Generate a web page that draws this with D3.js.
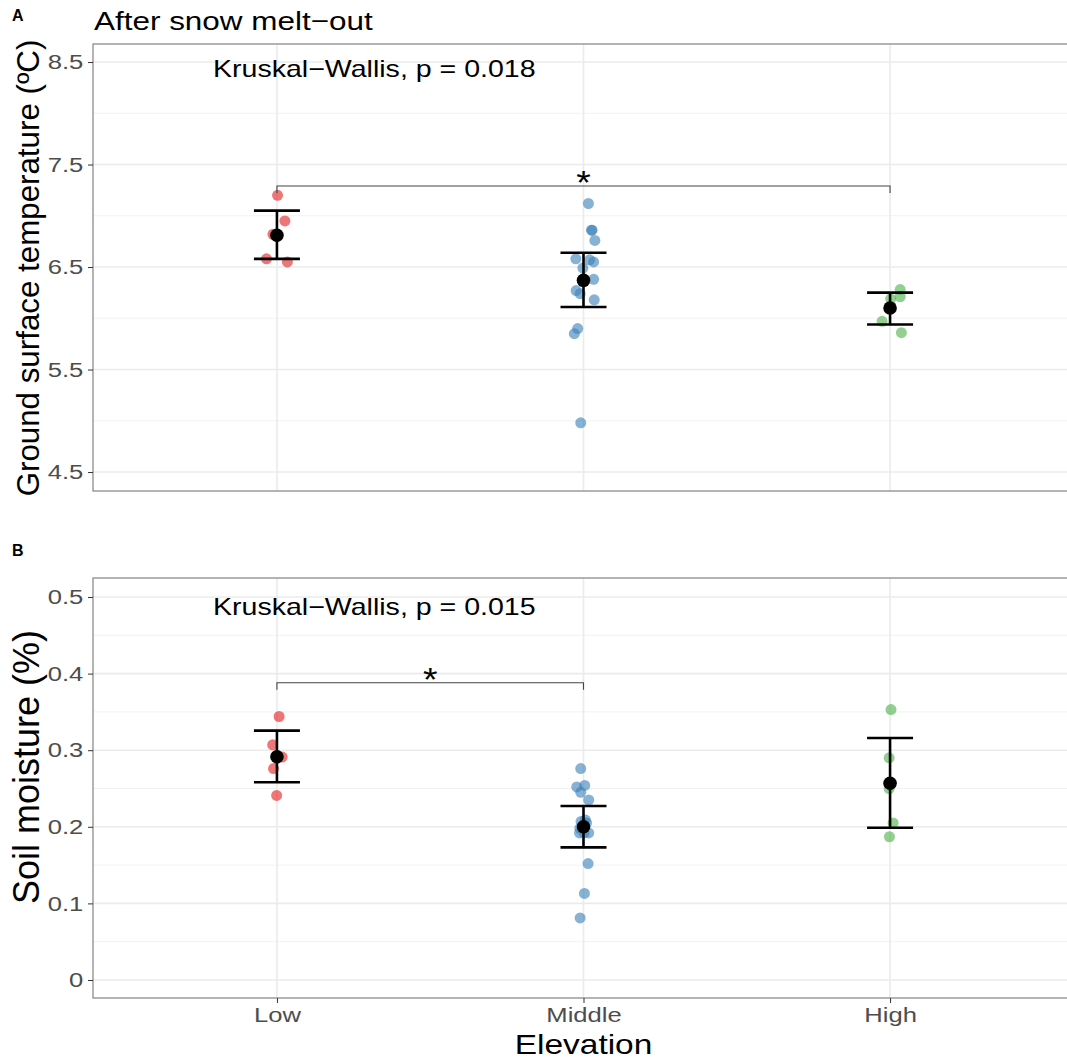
<!DOCTYPE html>
<html>
<head>
<meta charset="utf-8">
<script src="https://cdn.jsdelivr.net/npm/d3@7"></script>
<style>
  body { margin: 0; background: #fff; }
  svg { display: block; font-family: "Liberation Sans", Arial, Helvetica, sans-serif; }
</style>
</head>
<body>
<svg width="1067" height="1060"></svg>
<script>
// categories and palette
const groups = ["Low", "Middle", "High"];
const groupColors = ["#E41A1C", "#377EB8", "#4DAF4A"];

// panel A: ground surface temperature (group, value, jitter)
const tempGroup  = ["Low","Low","Low","Low","Low",
  "Middle","Middle","Middle","Middle","Middle","Middle","Middle","Middle","Middle","Middle","Middle","Middle","Middle","Middle","Middle",
  "High","High","High","High","High"];
const tempValue  = [7.20, 6.95, 6.58, 6.55, 6.82,
  7.12, 6.86, 6.86, 6.76, 6.58, 6.57, 6.55, 6.49, 6.38, 6.27, 6.24, 6.18, 5.90, 5.85, 4.98,
  6.28, 6.21, 6.19, 5.97, 5.86];
const tempJitter = [0.002, 0.026, -0.034, 0.034, -0.013,
  0.016, 0.028, 0.026, 0.037, -0.025, 0.020, 0.033, -0.002, 0.033, -0.024, -0.011, 0.035, -0.019, -0.030, -0.009,
  0.033, 0.033, 0.002, -0.026, 0.037];
const tempMean  = [6.81, 6.37, 6.10];
const tempLower = [6.58, 6.11, 5.94];
const tempUpper = [7.05, 6.64, 6.25];
const tempTicks = [4.5, 5.5, 6.5, 7.5, 8.5];

// panel B: soil moisture
const moistGroup  = ["Low","Low","Low","Low","Low",
  "Middle","Middle","Middle","Middle","Middle","Middle","Middle","Middle","Middle","Middle","Middle","Middle","Middle","Middle","Middle",
  "High","High","High","High","High"];
const moistValue  = [0.344, 0.307, 0.291, 0.276, 0.241,
  0.276, 0.252, 0.254, 0.245, 0.235, 0.207, 0.209, 0.205, 0.198, 0.192, 0.192, 0.192, 0.152, 0.113, 0.081,
  0.353, 0.290, 0.250, 0.205, 0.187];
const moistJitter = [0.007, -0.014, 0.017, -0.011, -0.001,
  -0.009, -0.022, 0.004, -0.009, 0.017, -0.008, 0.006, 0.010, -0.012, -0.013, 0.017, 0.002, 0.015, 0.003, -0.011,
  0.003, -0.003, -0.003, 0.010, -0.002];
const moistMean  = [0.2915, 0.2001, 0.2568];
const moistLower = [0.2581, 0.1732, 0.1988];
const moistUpper = [0.3255, 0.2272, 0.3159];
const moistTicks = [0, 0.1, 0.2, 0.3, 0.4, 0.5];

const svg = d3.select("svg");
const W = +svg.attr("width");
const SX = 1.22; // the picture's text is a little wider than it is tall

// discrete x, ggplot style: categories at 1..3, limits 0.4..3.6
const x = d3.scaleLinear().domain([0.4, 3.6]).range([93, 1074]);
const xPos = g => x(groups.indexOf(g) + 1);
const colorOf = d3.scaleOrdinal().domain(groups).range(groupColors);

// horizontal text, stretched a bit
function wideText(parent, px, py, str, size, sx, anchor) {
  return parent.append("text")
    .attr("transform", `translate(${px},${py}) scale(${sx},1)`)
    .attr("text-anchor", anchor || "start")
    .style("font-size", size + "px").attr("fill", "#000")
    .text(str);
}

function panel(cfg) {
  const y = d3.scaleLinear().domain(cfg.domain).range([cfg.bottom, cfg.top]);
  const g = svg.append("g");

  // minor + major grid
  const minor = d3.range(cfg.ticks.length - 1).map(i => (cfg.ticks[i] + cfg.ticks[i + 1]) / 2);
  g.selectAll(".minor").data(minor).enter().append("line")
    .attr("x1", x.range()[0]).attr("x2", W)
    .attr("y1", d => y(d)).attr("y2", d => y(d))
    .attr("stroke", "#F2F2F2").attr("stroke-width", 1);
  g.selectAll(".major").data(cfg.ticks).enter().append("line")
    .attr("x1", x.range()[0]).attr("x2", W)
    .attr("y1", d => y(d)).attr("y2", d => y(d))
    .attr("stroke", "#EBEBEB").attr("stroke-width", 1.6);
  g.selectAll(".vgrid").data(groups).enter().append("line")
    .attr("x1", d => xPos(d)).attr("x2", d => xPos(d))
    .attr("y1", cfg.top).attr("y2", cfg.bottom)
    .attr("stroke", "#EBEBEB").attr("stroke-width", 1.6);

  // border
  g.append("rect")
    .attr("x", x.range()[0]).attr("y", cfg.top)
    .attr("width", x.range()[1] - x.range()[0]).attr("height", cfg.bottom - cfg.top)
    .attr("fill", "none").attr("stroke", "#8C8C8C").attr("stroke-width", 1.3);

  // y axis
  const yAxis = g.append("g").attr("transform", `translate(${x.range()[0]},0)`)
    .call(d3.axisLeft(y).tickValues(cfg.ticks).tickSize(5).tickPadding(3).tickFormat(cfg.fmt));
  yAxis.select(".domain").remove();
  yAxis.selectAll("line").attr("stroke", "#333");
  yAxis.selectAll("text").attr("fill", "#4D4D4D").style("font-size", "21px")
    .attr("transform", `scale(${SX},1)`)
    .style("font-family", "'Liberation Sans', Arial, sans-serif");

  // y title
  g.append("text")
    .attr("transform", `translate(${cfg.ylabX},${cfg.ylabY}) rotate(-90)`)
    .attr("text-anchor", "middle").style("font-size", cfg.ylabSize + "px").attr("fill", "#000")
    .text(cfg.ylab);

  // panel tag
  g.append("text").attr("x", 12).attr("y", cfg.tagY)
    .style("font-size", "16px").style("font-weight", "bold").text(cfg.tag);

  // points
  const pts = cfg.group.map((gr, i) => ({ g: gr, v: cfg.value[i], j: cfg.jitter[i] }));
  g.selectAll(".pt").data(pts).enter().append("circle")
    .attr("cx", d => x(groups.indexOf(d.g) + 1 + d.j))
    .attr("cy", d => y(d.v))
    .attr("r", 5.5)
    .attr("fill", d => colorOf(d.g)).attr("fill-opacity", 0.6);

  // error bars
  const eb = groups.map((gr, i) => ({ g: gr, m: cfg.mean[i], lo: cfg.lower[i], hi: cfg.upper[i] }));
  const ebG = g.selectAll(".eb").data(eb).enter().append("g");
  ebG.append("line")
    .attr("x1", d => xPos(d.g)).attr("x2", d => xPos(d.g))
    .attr("y1", d => y(d.lo)).attr("y2", d => y(d.hi))
    .attr("stroke", "#000").attr("stroke-width", 2.6);
  ["lo", "hi"].forEach(k => {
    ebG.append("line")
      .attr("x1", d => xPos(d.g) - 23).attr("x2", d => xPos(d.g) + 23)
      .attr("y1", d => y(d[k])).attr("y2", d => y(d[k]))
      .attr("stroke", "#000").attr("stroke-width", 2.6);
  });
  ebG.append("circle")
    .attr("cx", d => xPos(d.g)).attr("cy", d => y(d.m)).attr("r", 6.8).attr("fill", "#000");

  // significance bracket
  const b = cfg.bracket;
  const bx1 = xPos(b.from), bx2 = xPos(b.to), by = y(b.y);
  g.append("path")
    .attr("d", `M${bx1},${by + 7}V${by}H${bx2}V${by + 7}`)
    .attr("fill", "none").attr("stroke", "#444").attr("stroke-width", 1.1);
  wideText(g, (bx1 + bx2) / 2, by + 8, "*", 34, 1.1, "middle");

  // Kruskal-Wallis label
  wideText(g, x(cfg.kwX), y(cfg.kwY), cfg.kw, 24, 1.19);

  return g;
}

panel({
  top: 44, bottom: 491, domain: [4.315, 8.676], ticks: tempTicks, fmt: d3.format(".1f"),
  group: tempGroup, value: tempValue, jitter: tempJitter,
  mean: tempMean, lower: tempLower, upper: tempUpper,
  ylab: "Ground surface temperature (ºC)", ylabX: 39, ylabY: 268, ylabSize: 31.3,
  tag: "A", tagY: 21,
  bracket: { from: "Low", to: "High", y: 7.29 },
  kw: "Kruskal\u2212Wallis, p = 0.018", kwX: 0.7915, kwY: 8.355
});

panel({
  top: 578, bottom: 998, domain: [-0.0235, 0.5248], ticks: moistTicks, fmt: d => d === 0 ? "0" : d3.format(".1f")(d),
  group: moistGroup, value: moistValue, jitter: moistJitter,
  mean: moistMean, lower: moistLower, upper: moistUpper,
  ylab: "Soil moisture (%)", ylabX: 39, ylabY: 767, ylabSize: 36,
  tag: "B", tagY: 556,
  bracket: { from: "Low", to: "Middle", y: 0.388 },
  kw: "Kruskal\u2212Wallis, p = 0.015", kwX: 0.7915, kwY: 0.476
});

// title
wideText(svg, 94, 30, "After snow melt\u2212out", 26, 1.21);

// x axis (bottom panel only)
const xAxis = svg.append("g").attr("transform", "translate(0,998)")
  .call(d3.axisBottom(x).tickValues([1, 2, 3]).tickSize(5).tickPadding(4).tickFormat(d => groups[d - 1]));
xAxis.select(".domain").remove();
xAxis.selectAll("line").attr("stroke", "#333");
xAxis.selectAll("text").attr("fill", "#4D4D4D").style("font-size", "21px")
  .attr("transform", `scale(${SX},1)`)
  .style("font-family", "'Liberation Sans', Arial, sans-serif");

wideText(svg, x(2), 1054, "Elevation", 27, 1.24, "middle");
</script>
</body>
</html>
